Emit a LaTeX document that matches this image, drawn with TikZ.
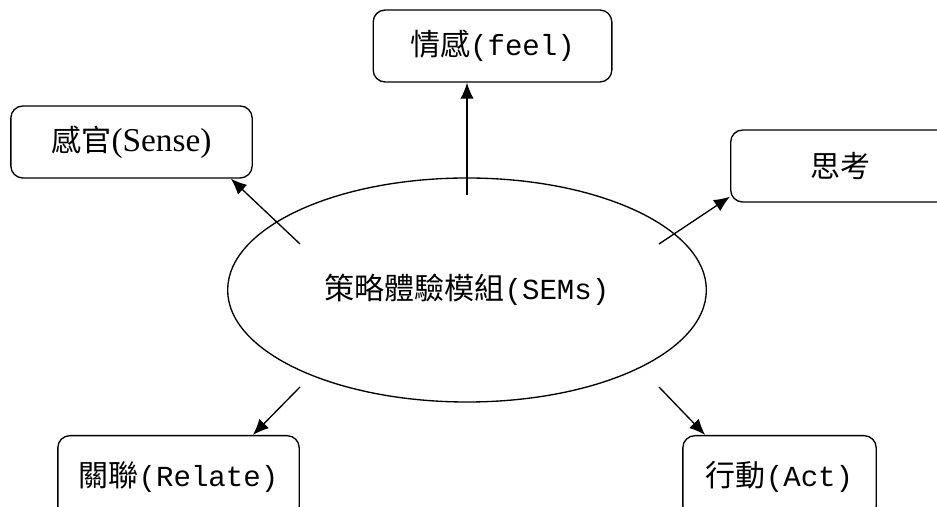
\documentclass[tikz,border=0pt]{standalone}
\usepackage{fontspec}
\setmainfont{Liberation Mono}[Scale=0.97]
\newfontfamily\cjk{Noto Sans CJK TC}
\newfontfamily\romanfont{Liberation Serif}
\usetikzlibrary{arrows.meta,calc,shapes.geometric}

\begin{document}
\begin{tikzpicture}[x=0.75pt,y=0.75pt,->,>={Latex[length=12pt,width=10pt]},
                    line width=1pt,
                    sem box/.style={draw,rounded corners=9pt,minimum height=54pt,
                      inner sep=0pt,font=\fontsize{22.5}{27}\selectfont},
                    sem core/.style={ellipse,draw,minimum width=359pt,
                      minimum height=168pt,inner sep=0pt,
                      font=\fontsize{22.5}{27}\selectfont}]
  \useasboundingbox (0,0) rectangle (937,506);

  \node[sem core] (core) at (467,216) {{\cjk 策略體驗模組}(SEMs)};

  \node[sem box,minimum width=179pt] (feel) at (492.5,460) {{\cjk 情感}(feel)};
  \node[sem box,minimum width=181pt] (sense) at (131.5,364) {{\cjk 感官}{\romanfont\fontsize{25}{27}\selectfont(Sense)}};
  \node[sem box,minimum width=164pt] (think) at (840,340) {\cjk 思考};
  % lower boxes run off the bottom edge
  \node[sem box,minimum width=181pt,minimum height=62pt] (relate) at (178.5,29) {{\cjk 關聯}(Relate)};
  \node[sem box,minimum width=145pt,minimum height=62pt] (act) at (779.5,29) {{\cjk 行動}(Act)};

  % arrows start inside the ellipse
  \coordinate (c-feel) at (467,311);
  \coordinate (c-sense) at (300,262);
  \coordinate (c-think) at (659,262);
  \coordinate (c-relate) at (300,119);
  \coordinate (c-act) at (659,119);

  \draw (c-feel) -- (feel.south -| c-feel);
  \draw (c-sense) -- ($(sense.south east)+(-22,0)$);
  \draw (c-think) -- ($(think.south west)+(0,6)$);
  \draw (c-relate) -- ($(relate.north east)+(-47,0)$);
  \draw (c-act) -- ($(act.north west)+(23,0)$);
\end{tikzpicture}
\end{document}
